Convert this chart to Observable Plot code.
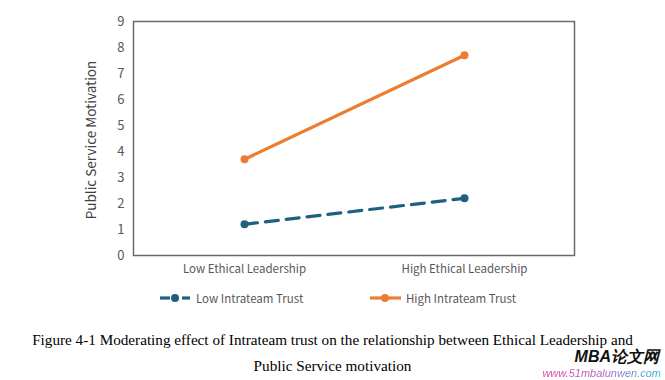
<!DOCTYPE html>
<html>
<head>
<meta charset="utf-8">
<script src="https://cdn.jsdelivr.net/npm/d3@7"></script>
<script src="https://cdn.jsdelivr.net/npm/@observablehq/plot@0.6"></script>
<style>
  html, body { margin: 0; padding: 0; background: #fff; }
  #wrap { position: relative; width: 665px; height: 380px; overflow: hidden; font-family: "Noto Sans CJK SC", "Noto Sans", sans-serif; }
  #chart { position: absolute; left: 0; top: 0; }
  .ylab { position: absolute; left: 90px; top: 140px; transform: translate(-50%, -50%) rotate(-90deg); white-space: nowrap; font-size: 13.5px; color: #404040; }
  .leg { position: absolute; top: 290px; display: flex; align-items: center; font-size: 11.5px; color: #595959; white-space: nowrap; }
  .leg svg { margin-right: 4px; }
  .cap { position: absolute; left: 0; width: 665px; text-align: center; font-family: "Liberation Serif", "Times New Roman", serif; font-size: 15.2px; color: #000; }
  .wm1 { position: absolute; right: 6px; top: 347px; font-family: "Liberation Sans", Arial, sans-serif; font-weight: bold; font-style: italic; font-size: 16px; color: #111; }
  .wm2 { position: absolute; right: 4px; top: 367px; font-family: "Liberation Sans", Arial, sans-serif; font-style: italic; font-size: 11px;
         background: linear-gradient(90deg, #e0409a, #b060c0 50%, #30b8d8); -webkit-background-clip: text; background-clip: text; color: transparent; }
</style>
</head>
<body>
<div id="wrap">
  <div id="chart"></div>
  <div class="ylab">Public Service Motivation</div>
  <div class="leg" style="left:160px" id="leg1"></div>
  <div class="leg" style="left:370px" id="leg2"></div>
  <div class="cap" style="top:331px">Figure 4-1 Moderating effect of Intrateam trust on the relationship between Ethical Leadership and</div>
  <div class="cap" style="top:357px">Public Service motivation</div>
  <div class="wm1">MBA论文网</div>
  <div class="wm2">www.51mbalunwen.com</div>
</div>
<script>
const groups = ["Low Ethical Leadership", "High Ethical Leadership"];
const seriesNames = ["Low Intrateam Trust", "High Intrateam Trust"];
const lowTrustValues = [1.2, 2.2];
const highTrustValues = [3.7, 7.7];
const yTicks = [0, 1, 2, 3, 4, 5, 6, 7, 8, 9];
const colors = ["#1f5f80", "#ed7d31"];

const lowData = groups.map((g, i) => ({group: g, value: lowTrustValues[i], series: seriesNames[0]}));
const highData = groups.map((g, i) => ({group: g, value: highTrustValues[i], series: seriesNames[1]}));

const chart = Plot.plot({
  width: 665,
  height: 280,
  marginTop: 21,
  marginBottom: 25,
  marginLeft: 133,
  marginRight: 91,
  style: {fontFamily: "'Noto Sans CJK SC', 'Noto Sans', sans-serif", fontSize: "12.5px", color: "#595959", background: "transparent"},
  x: {type: "band", domain: groups, padding: 0},
  y: {domain: [0, 9]},
  marks: [
    Plot.frame({stroke: "#6a6a6a", strokeWidth: 1.5}),
    Plot.axisY({ticks: yTicks, tickSize: 0, tickPadding: 9, label: null, tickFormat: d => String(d), fontSize: 13, fill: "#595959"}),
    Plot.axisX({tickSize: 0, tickPadding: 9, label: null, fontSize: 11.5, fill: "#595959"}),
    Plot.line(lowData, {x: "group", y: "value", stroke: colors[0], strokeWidth: 3.2, strokeDasharray: "13,8"}),
    Plot.line(highData, {x: "group", y: "value", stroke: colors[1], strokeWidth: 3.2}),
    Plot.dot(lowData, {x: "group", y: "value", r: 4, fill: colors[0]}),
    Plot.dot(highData, {x: "group", y: "value", r: 4, fill: colors[1]})
  ]
});
document.getElementById("chart").appendChild(chart);

function legendItem(el, name, color, dashed) {
  const line = dashed
    ? `<line x1="0" y1="8" x2="10" y2="8" stroke="${color}" stroke-width="3.2"/><line x1="22" y1="8" x2="30" y2="8" stroke="${color}" stroke-width="3.2"/>`
    : `<line x1="0" y1="8" x2="31" y2="8" stroke="${color}" stroke-width="3.2"/>`;
  el.innerHTML = `<svg width="32" height="16">${line}<circle cx="15" cy="8" r="4" fill="${color}"/></svg><span>${name}</span>`;
}
legendItem(document.getElementById("leg1"), seriesNames[0], colors[0], true);
legendItem(document.getElementById("leg2"), seriesNames[1], colors[1], false);
</script>
</body>
</html>
